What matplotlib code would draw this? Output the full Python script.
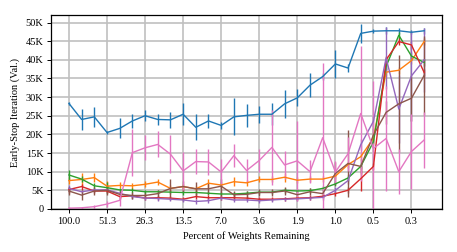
import matplotlib
matplotlib.use("Agg")
import matplotlib.pyplot as plt
import numpy as np

plt.rcParams['font.family'] = ['Liberation Serif', 'DejaVu Serif']

# percent of weights remaining, one tick every 3 pruning rounds
tick_labels = ['100.0', '51.3', '26.3', '13.5', '7.0', '3.6', '1.9', '1.0', '0.5', '0.3']
rounds = list(range(29))

# early-stop iteration in thousands, one list per run
blue = [28.3, 24.0, 24.7, 20.5, 21.6, 23.6, 25.0, 24.0, 23.9, 25.4, 21.9, 23.6, 22.4, 24.7, 25.1,
        25.4, 25.4, 28.2, 29.8, 33.2, 35.5, 38.9, 37.8, 47.1, 47.7, 47.8, 47.8, 47.4, 47.8]
blue_err = [0.5, 2.9, 2.7, 0.5, 2.7, 1.8, 1.5, 1.5, 2.2, 3.0, 3.5, 2.0, 1.0, 5.0, 3.0,
            2.3, 3.0, 3.7, 2.3, 3.3, 1.0, 3.8, 1.0, 2.6, 0.5, 1.0, 0.8, 0.5, 0.8]

orange = [7.6, 7.9, 8.4, 6.1, 6.3, 6.2, 6.6, 7.2, 5.5, 6.0, 5.4, 6.9, 6.4, 7.3, 7.0,
          7.9, 7.9, 8.5, 7.7, 8.0, 8.0, 8.8, 11.9, 14.0, 19.0, 36.7, 37.2, 39.8, 44.9]
orange_err = [1.0, 1.8, 1.2, 1.5, 0.8, 0.8, 0.8, 0.8, 0.8, 0.8, 0.8, 1.2, 0.8, 1.2, 0.8,
              0.8, 0.8, 1.2, 0.8, 0.8, 0.8, 0.8, 0.8, 1.0, 1.5, 1.0, 1.0, 1.0, 1.0]

green = [9.1, 8.0, 6.2, 5.7, 5.1, 5.0, 4.6, 4.6, 4.5, 4.4, 4.4, 4.2, 4.0, 4.0, 4.2,
         4.5, 4.5, 5.0, 4.8, 4.9, 5.5, 6.7, 8.3, 11.4, 18.0, 38.2, 46.6, 41.0, 39.3]
green_err = [1.4, 0.8, 0.8, 1.5, 0.6, 0.6, 0.6, 0.6, 0.6, 0.6, 0.6, 0.6, 0.6, 0.6, 0.6,
             0.6, 0.6, 0.6, 0.6, 0.6, 0.6, 0.6, 0.8, 0.8, 1.0, 1.0, 1.0, 1.0, 1.0]

red = [5.2, 6.0, 4.8, 4.8, 3.3, 3.5, 2.9, 3.0, 2.9, 2.6, 3.3, 3.0, 3.0, 3.0, 2.9,
       2.6, 2.6, 2.7, 2.9, 3.0, 3.4, 4.1, 5.0, 8.1, 11.4, 40.0, 44.9, 44.0, 36.6]
red_err = [0.8, 0.8, 0.6, 0.6, 0.6, 0.6, 0.6, 0.6, 0.6, 0.6, 0.6, 0.6, 0.6, 0.6, 0.6,
           0.6, 0.6, 0.6, 0.6, 0.6, 0.6, 0.6, 0.8, 3.4, 1.0, 1.0, 1.0, 1.0, 1.0]

purple = [5.5, 4.6, 5.1, 5.1, 4.2, 3.3, 2.9, 2.8, 2.6, 2.4, 2.0, 2.2, 2.9, 2.4, 2.4,
          2.2, 2.4, 2.6, 2.7, 2.9, 3.1, 5.0, 7.6, 17.2, 23.5, 40.5, 26.8, 35.7, 40.0]
purple_err = [0.8, 0.6, 0.6, 0.6, 0.6, 0.6, 0.6, 0.6, 0.6, 0.6, 0.6, 0.6, 0.6, 0.6, 0.6,
              0.6, 0.6, 0.6, 0.6, 0.6, 0.6, 0.8, 1.0, 1.5, 1.5, 8.3, 9.0, 12.0, 8.6]

brown = [4.8, 3.7, 4.8, 5.0, 3.9, 3.6, 3.6, 4.1, 5.5, 6.0, 5.4, 5.4, 6.1, 3.8, 3.9,
         4.4, 4.4, 4.8, 3.8, 4.6, 4.1, 9.5, 12.2, 11.4, 19.8, 25.9, 28.2, 29.7, 35.8]
brown_err = [1.2, 1.3, 1.0, 1.3, 1.0, 1.0, 0.8, 1.0, 2.4, 1.5, 1.8, 1.5, 2.0, 1.0, 1.0,
             1.0, 1.0, 1.0, 1.0, 1.0, 1.0, 3.0, 9.0, 2.0, 2.0, 3.0, 13.0, 6.0, 10.6]

pink = [0.2, 0.3, 0.6, 1.3, 2.3, 15.1, 16.4, 17.3, 14.7, 10.2, 12.7, 12.6, 9.9, 14.3, 10.3,
        13.0, 16.5, 11.8, 12.9, 10.0, 19.1, 9.9, 14.8, 25.6, 16.2, 18.9, 10.0, 15.4, 18.5]
pink_err = [0.2, 0.3, 0.5, 0.8, 1.5, 6.3, 3.4, 3.5, 5.0, 5.0, 3.4, 3.4, 3.5, 3.0, 3.1,
            3.0, 10.0, 3.8, 10.7, 3.0, 20.0, 3.0, 4.5, 18.0, 18.0, 14.0, 6.0, 10.0, 7.5]

runs = [(blue, blue_err, 'C0'), (orange, orange_err, 'C1'), (green, green_err, 'C2'),
        (red, red_err, 'C3'), (purple, purple_err, 'C4'), (brown, brown_err, 'C5'),
        (pink, pink_err, 'C6')]

fig = plt.figure(figsize=(4.57, 2.52), dpi=100)
ax = fig.add_axes([0.112, 0.171, 0.855, 0.769])

for vals, errs, col in runs:
    ax.errorbar(rounds, np.array(vals) * 1000, yerr=np.array(errs) * 1000,
                color=col, linewidth=1.0, elinewidth=1.0, capsize=0)

ax.set_xlim(-1.4, 29.4)
ax.set_ylim(0, 52000)
ax.set_xticks(rounds[::3])
ax.set_xticklabels(tick_labels)
ax.set_yticks(np.arange(0, 50001, 5000))
ax.set_yticklabels(['0'] + ['%dK' % k for k in range(5, 51, 5)])
ax.tick_params(labelsize=7.5, length=3, width=0.7, pad=2.5)
ax.grid(True, color='#c0c0c0', linewidth=1.2)
ax.set_axisbelow(True)
for sp in ax.spines.values():
    sp.set_linewidth(0.9)

ax.set_xlabel('Percent of Weights Remaining', fontsize=7.5, labelpad=4)
ax.set_ylabel('Early-Stop Iteration (Val.)', fontsize=7.5, labelpad=4)

fig.savefig('out.png', dpi=100)
